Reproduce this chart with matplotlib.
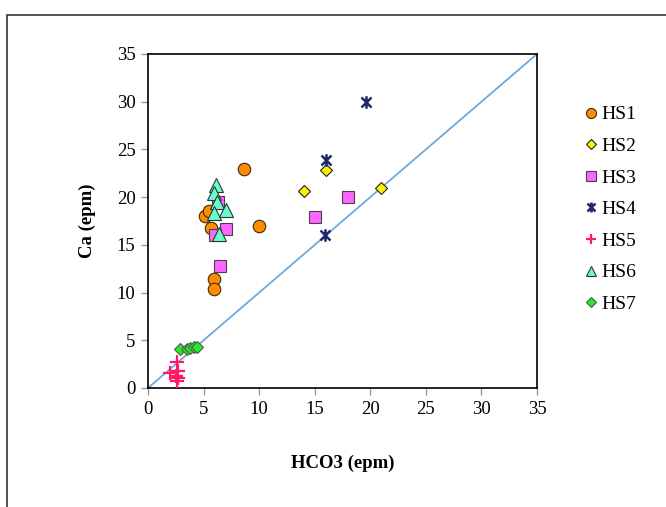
import matplotlib
matplotlib.use("Agg")
import matplotlib.pyplot as plt
from matplotlib.path import Path
from matplotlib.patches import Rectangle

plt.rcParams['font.family'] = ['Liberation Serif', 'DejaVu Serif']

# HCO3 vs Ca (epm) by group
hs1_x = [8.6, 10.0, 5.1, 5.5, 5.7, 5.9, 5.9]
hs1_y = [23.0, 17.0, 18.0, 18.5, 16.8, 11.4, 10.4]

hs2_x = [16.0, 14.0, 21.0]
hs2_y = [22.8, 20.6, 21.0]

hs3_x = [6.3, 7.0, 6.0, 6.5, 15.0, 18.0]
hs3_y = [19.5, 16.7, 16.0, 12.8, 17.9, 20.0]

hs4_x = [19.6, 16.0, 15.9]
hs4_y = [30.0, 23.9, 16.0]

hs5_x = [2.6, 2.0, 2.7, 2.5, 2.7, 2.6]
hs5_y = [2.7, 1.6, 1.8, 1.3, 1.0, 0.7]

hs6_x = [6.1, 5.9, 6.2, 7.0, 5.9, 6.4]
hs6_y = [21.3, 20.4, 19.5, 18.7, 18.3, 16.1]

hs7_x = [2.9, 3.5, 3.8, 4.1, 4.4]
hs7_y = [4.1, 4.1, 4.2, 4.3, 4.3]

ticks = [0, 5, 10, 15, 20, 25, 30, 35]

# star marker: X with a vertical bar
star = Path([(-1, -1), (1, 1), (-1, 1), (1, -1), (0, -1.25), (0, 1.25)],
            [Path.MOVETO, Path.LINETO, Path.MOVETO, Path.LINETO, Path.MOVETO, Path.LINETO])

fig = plt.figure(figsize=(6.66, 5.07), dpi=100)
ax = fig.add_axes([148/666, 1-388/507, (537-148)/666, (388-54)/507])

# outer frame
fig.patches.append(Rectangle((7/666, -0.02), 1.05, 0.02 + (1-15/507), transform=fig.transFigure,
                             fill=False, edgecolor='#333333', linewidth=1.2))

ax.plot([0, 35], [0, 35], color='#6FA8DC', linewidth=1.3, zorder=1)

ax.plot(hs1_x, hs1_y, 'o', ms=9, mfc='#FF8C00', mec='#3a2a10', mew=0.8, ls='none', label='HS1', zorder=3)
ax.plot(hs2_x, hs2_y, 'D', ms=6.5, mfc='#FFF200', mec='#222222', mew=0.8, ls='none', label='HS2', zorder=3)
ax.plot(hs3_x, hs3_y, 's', ms=9, mfc='#FF66FF', mec='#444444', mew=0.8, ls='none', label='HS3', zorder=3)
ax.plot(hs4_x, hs4_y, marker=star, ms=9, mec='#1B2A6B', mew=1.8, ls='none', label='HS4', zorder=3)
ax.plot(hs5_x, hs5_y, '+', ms=9.5, mec='#FF1A66', mew=1.6, ls='none', label='HS5', zorder=3)
ax.plot(hs6_x, hs6_y, '^', ms=9.5, mfc='#66FFCC', mec='#333333', mew=0.8, ls='none', label='HS6', zorder=4)
ax.plot(hs7_x, hs7_y, 'D', ms=6.5, mfc='#22EE22', mec='#555555', mew=0.8, ls='none', label='HS7', zorder=3)

ax.set_xlim(0, 35)
ax.set_ylim(0, 35)
ax.set_xticks(ticks)
ax.set_yticks(ticks)
ax.tick_params(direction='out', length=5, width=1, color='#999999', labelsize=13.5, pad=4)
for s in ax.spines.values():
    s.set_color('black')
    s.set_linewidth(1.2)

ax.set_xlabel('HCO3 (epm)', fontsize=13.5, fontweight='bold', labelpad=27)
ax.set_ylabel('Ca (epm)', fontsize=13.5, fontweight='bold', labelpad=15)

fig.legend(loc='upper left', bbox_to_anchor=(574/666, 1-96/507), frameon=False, fontsize=14,
           markerscale=0.8, handlelength=0.7, handletextpad=0.2, labelspacing=0.72, borderpad=0)

fig.savefig('out.png', dpi=100)
